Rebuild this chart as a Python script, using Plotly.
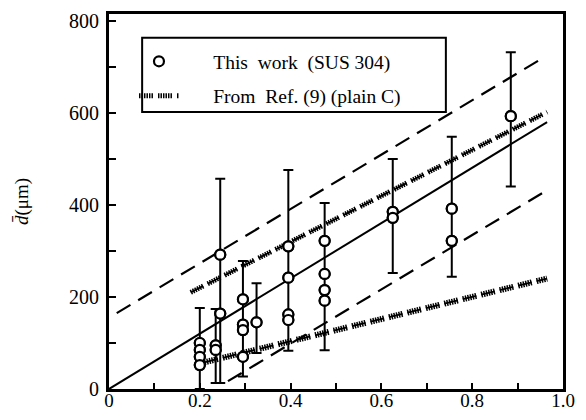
import plotly.graph_objects as go

# ---- data ----
group_x = [0.200, 0.235, 0.245, 0.295, 0.325, 0.395, 0.475, 0.625, 0.755, 0.885]
group_vals = [
    [100, 85, 70, 52],
    [95, 85],
    [292, 164],
    [195, 140, 128, 70],
    [145],
    [310, 242, 162, 150],
    [322, 250, 215, 192],
    [385, 372],
    [392, 322],
    [593],
]
err_low = [0, 13, 13, 27, 78, 83, 84, 252, 244, 440]
err_high = [176, 174, 457, 278, 230, 476, 404, 500, 548, 732]

# fitted / reference lines (end points)
solid_x = [0.0, 0.965]
solid_y = [0, 580]
dash_up_x = [0.017, 0.96]
dash_up_y = [165, 722]
dash_lo_x = [0.262, 0.965]
dash_lo_y = [17, 432]
ref_up_x = [0.18, 0.965]
ref_up_y = [210, 602]
ref_lo_x = [0.21, 0.965]
ref_lo_y = [58, 240]

x_ticks = [0, 0.2, 0.4, 0.6, 0.8, 1.0]
x_tick_text = ["0", "0.2", "0.4", "0.6", "0.8", "1.0"]
y_ticks = [0, 200, 400, 600, 800]
y_tick_text = ["0", "200", "400", "600", "800"]

FONT = "Times New Roman, Liberation Serif, DejaVu Serif, serif"
NB = "\u00a0"

pts_x = [gx for gx, vals in zip(group_x, group_vals) for _ in vals]
pts_y = [v for vals in group_vals for v in vals]
mid_y = [(lo + hi) / 2 for lo, hi in zip(err_low, err_high)]
half = [(hi - lo) / 2 for lo, hi in zip(err_low, err_high)]

fig = go.Figure()

# measured points (legend entry)
fig.add_trace(go.Scatter(x=pts_x, y=pts_y, mode="markers",
                         marker=dict(symbol="circle", size=10, color="white",
                                     line=dict(color="black", width=2.2)),
                         name=NB * 6 + "This" + NB * 2 + "work" + NB * 2 + "(SUS 304)",
                         legendgroup="this"))

tick_pat = "1.5px,1px,1.5px,1px,1.5px,1px,1.5px,1px,1.5px,1px,1.5px,5px"
spine_pat = "14px,5px"

# reference (plain C) hatched lines
for xs, ys, w, show in [(ref_up_x, ref_up_y, 5, True), (ref_lo_x, ref_lo_y, 6, False)]:
    fig.add_trace(go.Scatter(x=xs, y=ys, mode="lines",
                             line=dict(color="black", width=1.8, dash=spine_pat),
                             showlegend=False, hoverinfo="skip", legendgroup="ref"))
    fig.add_trace(go.Scatter(x=xs, y=ys, mode="lines",
                             line=dict(color="black", width=w, dash=tick_pat),
                             name=NB * 6 + "From" + NB * 2 + "Ref. (9) (plain C)",
                             showlegend=show, legendgroup="ref"))

# solid and dashed lines
fig.add_trace(go.Scatter(x=solid_x, y=solid_y, mode="lines",
                         line=dict(color="black", width=2), showlegend=False))
for xs, ys in [(dash_up_x, dash_up_y), (dash_lo_x, dash_lo_y)]:
    fig.add_trace(go.Scatter(x=xs, y=ys, mode="lines",
                             line=dict(color="black", width=2.2, dash="16px,9px"),
                             showlegend=False))

# error bars
fig.add_trace(go.Scatter(x=group_x, y=mid_y, mode="markers",
                         marker=dict(size=1, color="rgba(0,0,0,0)"),
                         error_y=dict(type="data", array=half, symmetric=True,
                                      color="black", thickness=2, width=5),
                         showlegend=False, hoverinfo="skip"))

# redraw the points above the bars (same data, no legend)
fig.add_trace(go.Scatter(x=pts_x, y=pts_y, mode="markers",
                         marker=dict(symbol="circle", size=10, color="white",
                                     line=dict(color="black", width=2.2)),
                         showlegend=False, hoverinfo="skip"))

# page body has an 8px margin: figure is sized so the plot lands where the reference has it
fig.update_layout(
    width=570, height=404,
    margin=dict(l=101, r=15, t=6, b=23, autoexpand=False),
    paper_bgcolor="white", plot_bgcolor="white",
    font=dict(family=FONT, size=20, color="black"),
    showlegend=True,
    legend=dict(x=0.055, y=0.925, xanchor="left", yanchor="top",
                bgcolor="rgba(0,0,0,0)", font=dict(family=FONT, size=19.5),
                traceorder="grouped", tracegroupgap=6, itemwidth=40),
    shapes=[dict(type="rect", xref="paper", yref="paper",
                 x0=0.073, x1=0.742, y0=0.739, y1=0.937,
                 line=dict(color="black", width=2))],
)
fig.update_xaxes(range=[0, 1.0], tickvals=x_ticks, ticktext=x_tick_text,
                 automargin=False, ticklabelstandoff=-8,
                 showgrid=False, zeroline=False, showline=True, linewidth=3,
                 linecolor="black", mirror=True, ticks="inside", ticklen=6,
                 tickwidth=2, tickcolor="black",
                 minor=dict(dtick=0.1, ticks="inside", ticklen=6, tickwidth=2,
                            tickcolor="black"),
                 tickfont=dict(family=FONT, size=19))
fig.update_yaxes(range=[0, 815], tickvals=y_ticks, ticktext=y_tick_text,
                 automargin=False, ticklabelstandoff=3,
                 showgrid=False, zeroline=False, showline=True, linewidth=3,
                 linecolor="black", mirror=True, ticks="inside", ticklen=7,
                 tickwidth=2, tickcolor="black",
                 minor=dict(dtick=100, ticks="inside", ticklen=7, tickwidth=2,
                            tickcolor="black"),
                 tickfont=dict(family=FONT, size=20),
                 title=dict(text="<i>d\u0304</i>(\u03bcm)", standoff=36,
                            font=dict(family=FONT, size=19)))

fig.write_html("out.html")
